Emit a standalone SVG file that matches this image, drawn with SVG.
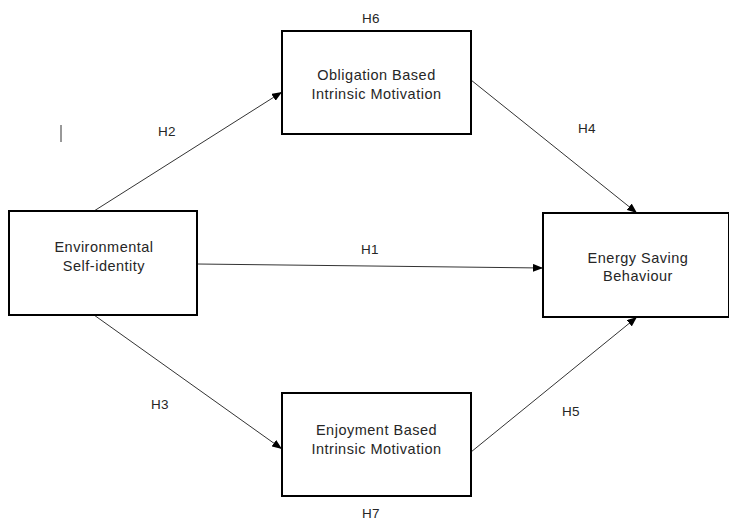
<svg xmlns="http://www.w3.org/2000/svg" width="729" height="522" viewBox="0 0 729 522">
<style>
.box{fill:#fff;stroke:#000;stroke-width:2}
.t{font-family:"Liberation Sans",Arial,sans-serif;font-size:14.5px;letter-spacing:0.5px;fill:#262626;text-anchor:middle}
.lbl{font-family:"Liberation Sans",Arial,sans-serif;font-size:13.5px;letter-spacing:0.3px;fill:#262626;text-anchor:middle}
.c{stroke:#333;stroke-width:1;fill:none;marker-end:url(#ah)}
</style>
<defs>
<marker id="ah" markerWidth="10" markerHeight="8" refX="10" refY="4" orient="auto" markerUnits="userSpaceOnUse">
<path d="M0,0 L10,4 L0,8 z" fill="#000"/>
</marker>
</defs>
<rect width="729" height="522" fill="#fff"/>
<g id="connectors">
<line class="c" x1="94" y1="211" x2="282" y2="92"/>
<line class="c" x1="197" y1="264" x2="543" y2="268"/>
<line class="c" x1="94" y1="315" x2="282" y2="449"/>
<line class="c" x1="471" y1="80" x2="637" y2="213"/>
<line class="c" x1="471" y1="452" x2="637" y2="317"/>
</g>
<g id="obligation">
<rect class="box" x="282" y="31" width="189" height="103"/>
<text class="t" x="376.5" y="80">Obligation Based</text>
<text class="t" x="376.5" y="99">Intrinsic Motivation</text>
</g>
<g id="environmental">
<rect class="box" x="9" y="211" width="188" height="104"/>
<text class="t" x="104" y="252">Environmental</text>
<text class="t" x="104" y="271">Self-identity</text>
</g>
<g id="energy">
<rect class="box" x="543" y="213" width="186" height="104"/>
<text class="t" x="638" y="263">Energy Saving</text>
<text class="t" x="638" y="281">Behaviour</text>
</g>
<g id="enjoyment">
<rect class="box" x="282" y="393" width="189" height="103"/>
<text class="t" x="376.5" y="435">Enjoyment Based</text>
<text class="t" x="376.5" y="454">Intrinsic Motivation</text>
</g>
<g id="labels">
<text class="lbl" x="371" y="23">H6</text>
<text class="lbl" x="167" y="136">H2</text>
<text class="lbl" x="587" y="133">H4</text>
<text class="lbl" x="370" y="254">H1</text>
<text class="lbl" x="160" y="409">H3</text>
<text class="lbl" x="571" y="416">H5</text>
<text class="lbl" x="371" y="518">H7</text>
</g>
<line x1="61" y1="125" x2="61" y2="142" stroke="#333" stroke-width="1"/>
</svg>
